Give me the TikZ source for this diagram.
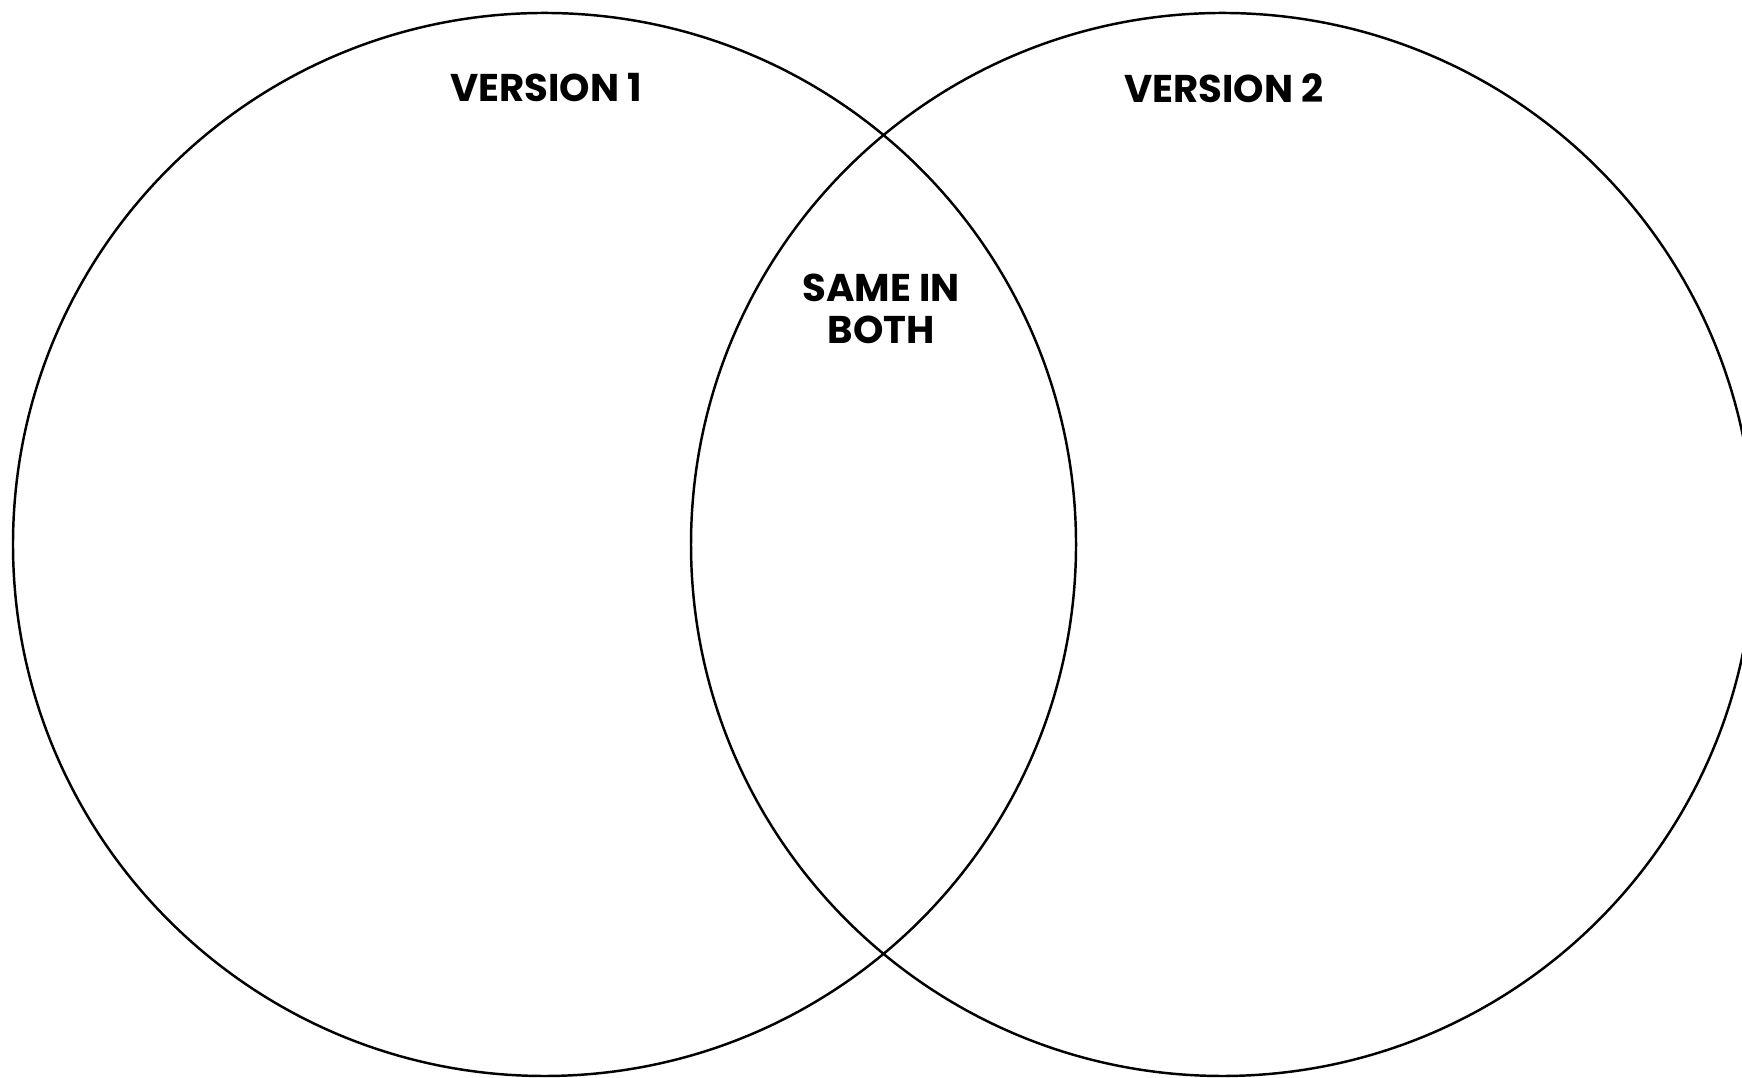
\documentclass[tikz,border=0pt]{standalone}
\usepackage{fontspec}
\setmainfont{Poppins}
\begin{document}
\begin{tikzpicture}[
  venn/.style={draw=black, line width=0.7pt, circle, minimum size=10.63cm, inner sep=0pt, outer sep=0pt},
  lbl/.style={font=\fontsize{11}{11.95}\selectfont\bfseries, align=center, inner sep=0pt}
]
\useasboundingbox (0,0) rectangle (17.42,10.78);
\clip (0,0) rectangle (17.42,10.78);
\fill[white] (0,0) rectangle (17.42,10.78);
\node[venn] (v1) at (5.445,5.335) {};
\node[venn] (v2) at (12.225,5.335) {};
\node[lbl] (t1) at (5.46,9.90) {VERSION 1};
\node[lbl] (t2) at (12.24,9.90) {VERSION 2};
\node[lbl] (t3) at (8.81,7.69) {SAME IN\\BOTH};
\end{tikzpicture}
\end{document}
